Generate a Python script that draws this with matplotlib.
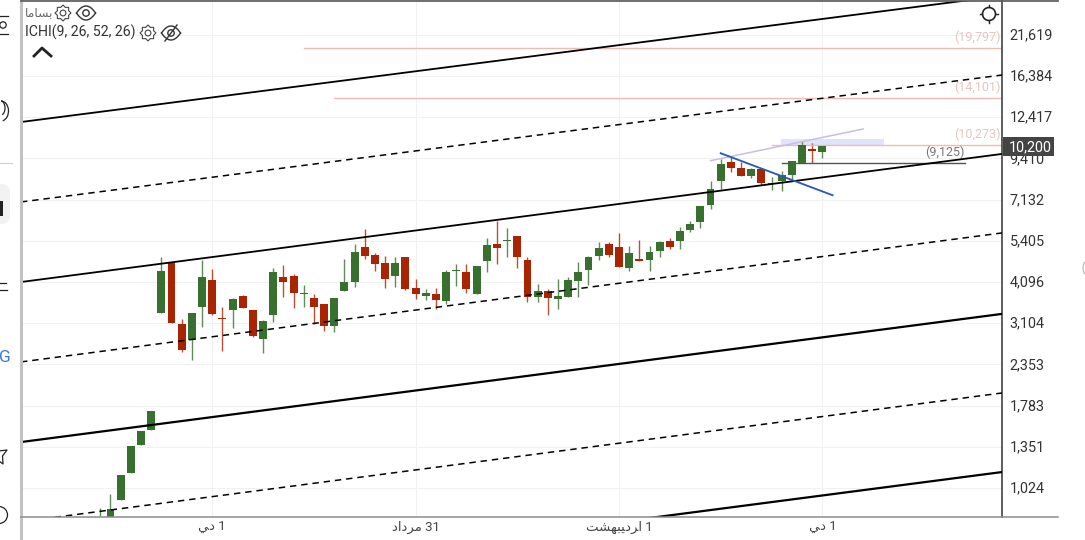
import numpy as np
import matplotlib
matplotlib.use("Agg")
import matplotlib.pyplot as plt
from matplotlib.patches import Circle, Polygon, Rectangle, FancyBboxPatch, Arc
from matplotlib.ticker import FixedLocator, FixedFormatter, NullLocator
from matplotlib.transforms import ScaledTranslation

plt.rcParams['font.family'] = ['Roboto', 'DejaVu Sans']

# ---------- data ----------
opens = [869, 835, 947, 1135, 1371, 1513, 3320, 4697, 3090, 2773, 3471, 4151, 3216, 3400, 3722, 3393, 2798, 3282,
         4247, 4254, 3780, 3672, 3535, 3048, 3863, 4097, 5186, 4915, 4648, 4267, 4849, 3927, 3737, 3772, 3598, 4403,
         4383, 3788, 4719, 5303, 5389, 5597, 4760, 3697, 3856, 3662, 3712, 4132, 4450, 4882, 5292, 5176, 4511, 4793,
         4750, 5057, 5409, 5399, 5812, 6136, 6867, 8068, 9189, 8843, 8364, 8783, 7925, 8100, 8403, 9146, 10004, 9846]
highs = [895, 983, 1120, 1358, 1500, 1723, 4839, 4697, 3194, 3320, 4750, 4463, 3457, 3679, 3763, 3393, 3172, 4494,
         4604, 4316, 4008, 3780, 3535, 3672, 4793, 5292, 5840, 4971, 4882, 4859, 4849, 4180, 3916, 3927, 4432, 4626,
         4635, 4565, 5499, 6189, 5881, 5597, 4859, 4035, 3900, 4171, 4247, 4688, 4872, 5353, 5363, 5687, 5222, 5434,
         5222, 5409, 5499, 5921, 6189, 6848, 8100, 9355, 9523, 9207, 8807, 8843, 8325, 8647, 9268, 10600, 10418, 10200]
lows = [849, 835, 947, 1135, 1371, 1513, 3320, 3104, 2558, 2424, 3034, 3282, 2570, 3013, 3440, 2837, 2537, 3131,
        3712, 3447, 3471, 3090, 2952, 2933, 3863, 3970, 4793, 4412, 3935, 3970, 3881, 3654, 3629, 3417, 3542, 3997,
        3798, 3788, 4392, 4635, 4859, 4511, 3575, 3575, 3282, 3410, 3697, 3704, 4016, 4750, 4859, 4523, 4421, 4710,
        4421, 4859, 5126, 5105, 5736, 5893, 6681, 7645, 8574, 8380, 8250, 7857, 7608, 7543, 8137, 9110, 9110, 9420]
closes = [873, 889, 1120, 1358, 1500, 1723, 4421, 3104, 2592, 3320, 4229, 3298, 3187, 3647, 3447, 2850, 3158, 4392,
          4089, 3813, 3805, 3464, 3048, 3672, 4097, 5004, 4882, 4635, 4189, 4648, 3908, 3788, 3805, 3622, 4374, 4432,
          3908, 4565, 5246, 5161, 5423, 4849, 3712, 3856, 3687, 3737, 4151, 4383, 4849, 5151, 4925, 4523, 4971, 4710,
          5014, 5363, 5176, 5763, 6043, 6848, 7677, 9086, 8843, 8380, 8746, 7994, 7994, 8420, 9231, 10301, 9891, 10200]

price_ticks = [1024, 1351, 1783, 2353, 3104, 4096, 5405, 7132, 9410, 12417, 16384, 21619]
price_tick_labels = ['1,024', '1,351', '1,783', '2,353', '3,104', '4,096', '5,405', '7,132', '9,410', '12,417',
                     '16,384', '21,619']
date_ticks = [11, 31, 51, 71]
date_labels = ['\uFEF2\uFEA9 1',
               '\uFEA9\uFE8D\uFEA9\uFEAE\uFEE3 31',
               '\uFE96\uFEB8\uFEEC\uFE92\uFEF4\uFEA9\uFEAE\uFE8D 1',
               '\uFEF2\uFEA9 1']

# channel lines: price at the left and right edge of the plot
solid_left = [12022, 4096, 1395, 482]
solid_right = [28100, 9698, 3305, 1140]
solid_widths = [1.3, 1.3, 1.6, 1.6]
dashed_left = [7019, 2392, 816]
dashed_right = [16494, 5699, 1941]

levels = [19797, 14101, 10273]
level_starts = [20, 23, 66]
level_labels = ['(19,797)', '(14,101)', '(10,273)']
support = 9125
support_span = [67, 85]
support_label = '(9,125)'
trend_x = [61, 72]
trend_p = [9743, 7345]
wedge_x = [60, 75]
wedge_p = [9268, 11470]
zone_x = [66.9, 77.05]
zone_p = [10250, 10700]
last_price = '10,200'

# ---------- layout ----------
W, H = 1085, 540
fig = plt.figure(figsize=(W / 100, H / 100), dpi=100, facecolor='white')
ax = fig.add_axes([21 / W, (H - 517) / H, (1002 - 21) / W, 516 / H])
ax.set_yscale('log')
x0, x1 = -7.8, 88.66
ax.set_xlim(x0, x1)
ax.set_ylim(842.4, 27145)

ax.yaxis.tick_right()
ax.yaxis.set_major_locator(FixedLocator(price_ticks))
ax.yaxis.set_major_formatter(FixedFormatter(price_tick_labels))
ax.yaxis.set_minor_locator(NullLocator())
ax.xaxis.set_major_locator(FixedLocator(date_ticks))
ax.xaxis.set_major_formatter(FixedFormatter(date_labels))
ax.xaxis.set_minor_locator(NullLocator())
ax.tick_params(axis='y', length=0, pad=5.5, labelsize=10.4, labelcolor='#333333')
ax.tick_params(axis='x', length=0, pad=2.5, labelsize=9.5, labelcolor='#444444')
ax.grid(True, color='#f1f1f1', lw=0.8, zorder=0)
ax.set_axisbelow(True)
for lbl in ax.get_yticklabels():
    lbl.set_transform(lbl.get_transform() + ScaledTranslation(0, 1 / 100, fig.dpi_scale_trans))

for s in ('left', 'top', 'bottom'):
    ax.spines[s].set_visible(False)
ax.spines['right'].set_color('#333333')
ax.spines['right'].set_linewidth(1.1)

# ---------- candles ----------
GREEN, RED = '#38702f', '#a82403'
k = np.arange(len(opens))
o, h, l, c = map(np.array, (opens, highs, lows, closes))
cols = [GREEN if cc >= oo else RED for oo, cc in zip(o, c)]
ax.vlines(k, l, h, colors=cols, lw=1.0, alpha=0.8, zorder=2)
ax.bar(k, np.maximum(np.abs(c - o), 1e-3), bottom=np.minimum(o, c), width=0.78, color=cols, linewidth=0, zorder=3)

# ---------- drawings ----------
for a, b, w in zip(solid_left, solid_right, solid_widths):
    ax.plot([x0, x1], [a, b], color='black', lw=w, zorder=4, solid_capstyle='butt')
for a, b in zip(dashed_left, dashed_right):
    ax.plot([x0, x1], [a, b], color='black', lw=1.1, ls=(0, (4.2, 3.2)), zorder=4)

for lv, st, lb in zip(levels, level_starts, level_labels):
    ax.plot([st, x1], [lv, lv], color='#ecbdb5', lw=1.0, zorder=2)
    ax.annotate(lb, xy=(x1, lv), xytext=(-1, 3), textcoords='offset points', ha='right', va='bottom',
                fontsize=9, color='#e2c6c1')
ax.plot(support_span, [support, support], color='#555555', lw=1.0, zorder=2)
ax.annotate(support_label, xy=(support_span[1], support), xytext=(0, 3), textcoords='offset points', ha='right',
            va='bottom', fontsize=9, color='#777777')
ax.fill_between(zone_x, zone_p[0], zone_p[1], color='#e1e3fb', lw=0, zorder=1)
ax.plot(wedge_x, wedge_p, color='#c9bde6', lw=1.1, zorder=5)
ax.plot(trend_x, trend_p, color='#2c5db0', lw=1.35, zorder=5)

# ---------- overlay in pixels: frame, legend, icons, price tag ----------
ov = fig.add_axes([0, 0, 1, 1], zorder=10)
ov.set_xlim(0, W)
ov.set_ylim(H, 0)
ov.axis('off')
ov.patch.set_alpha(0)

ov.plot([21, 21], [0, 540], color='#c2c2c2', lw=2.2)
ov.plot([21, 1058], [517, 517], color='#8c8c8c', lw=1.1)
ov.plot([21, 1058], [0.5, 0.5], color='#555555', lw=1.2)
ov.plot([0, 12], [163, 163], color='#cfcfcf', lw=0.8)


def gear(cx, cy, r=8):
    n = 16
    ang = np.linspace(0, 2 * np.pi, n, endpoint=False)
    rad = np.where(np.arange(n) % 2 == 0, r, r * 0.76)
    ov.add_patch(Polygon(np.c_[cx + rad * np.cos(ang), cy + rad * np.sin(ang)], closed=True, fill=False,
                         ec='#444444', lw=0.8))
    ov.add_patch(Circle((cx, cy), r * 0.36, fill=False, ec='#444444', lw=0.8))


def eye(cx, cy, slashed=False):
    t = np.linspace(-1, 1, 41)
    ov.plot(cx + 9.5 * t, cy - 7 * (1 - t ** 2), color='#333333', lw=1.0)
    ov.plot(cx + 9.5 * t, cy + 7 * (1 - t ** 2), color='#333333', lw=1.0)
    ov.add_patch(Circle((cx, cy), 3.2, fill=False, ec='#333333', lw=1.0))
    if slashed:
        ov.plot([cx - 6, cx + 6], [cy + 8, cy - 8], color='#333333', lw=1.0)


ov.text(25, 13, '\uFE8E\uFEE3\uFE8E\uFEB4\uFE91', fontsize=8.8, color='#666666', ha='left', va='center')
ov.text(25, 32, 'ICHI(9, 26, 52, 26)', fontsize=10.2, color='#333333', ha='left', va='center')
gear(63, 13)
eye(86, 13)
gear(148, 33)
eye(171, 33, slashed=True)
ov.plot([34, 42, 51], [56, 48, 56], color='#222222', lw=2.0)

ov.add_patch(Circle((989, 14), 6.5, fill=False, ec='#222222', lw=1.2))
for dx, dy in ((0, -9), (0, 9), (-9, 0), (9, 0)):
    ov.plot([989 + dx * 0.75, 989 + dx], [14 + dy * 0.75, 14 + dy], color='#222222', lw=1.0)

ov.add_patch(Rectangle((1003, 137), 51, 19, fc='#444444', ec='none'))
ov.text(1030, 147, last_price, color='white', fontsize=10.4, ha='center', va='center')

# clipped toolbar icons on the left edge
ov.plot([0, 8], [15.5, 15.5], color='#222222', lw=0.9)
ov.plot([0, 8], [33.5, 33.5], color='#222222', lw=0.9)
ov.add_patch(Circle((3, 25), 3.2, fill=False, ec='#222222', lw=0.9))
ov.add_patch(Arc((1, 111), 15, 20, theta1=-90, theta2=80, ec='#222222', lw=0.9))
ov.add_patch(Arc((1, 108), 8, 14, theta1=-90, theta2=80, ec='#222222', lw=0.9))
ov.add_patch(FancyBboxPatch((-10, 184), 20, 40, boxstyle='round,pad=0,rounding_size=8', fc='#f2f2f2', ec='none'))
ov.add_patch(Rectangle((0, 201), 2.5, 15, fc='#222222', ec='none'))
ov.plot([0, 6], [283, 283], color='#222222', lw=0.9)
ov.plot([0, 7], [290, 290], color='#222222', lw=0.9)
ov.text(5, 358, 'G', fontsize=12.5, color='#3f78d8', ha='center', va='center')
ov.plot([-1, 7, 2.5, 3, -1], [451, 450, 456, 464, 461], color='#222222', lw=0.9)
ov.add_patch(Circle((-1, 515), 8.5, fill=False, ec='#222222', lw=0.9))
ov.add_patch(Arc((1087, 268), 8, 14, theta1=100, theta2=260, ec='#bbbbbb', lw=0.9))

fig.savefig('out.png', dpi=100)
